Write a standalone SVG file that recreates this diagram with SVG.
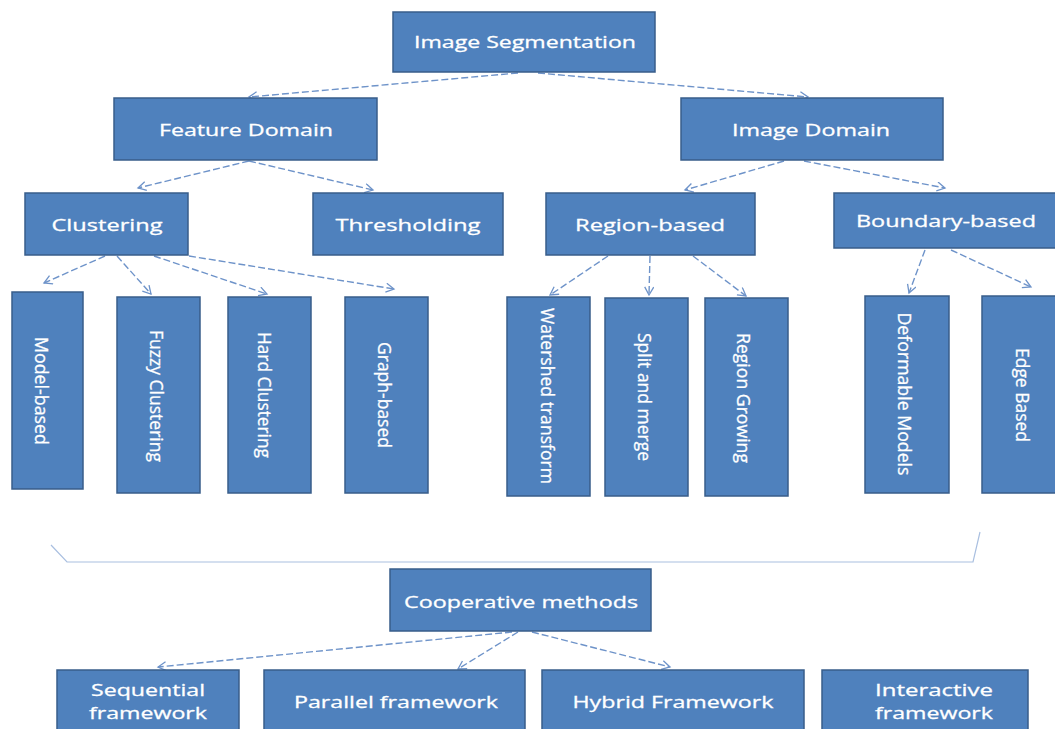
<svg xmlns="http://www.w3.org/2000/svg" width="1055" height="729" viewBox="0 0 1055 729">
<defs>
<marker id="ah" markerUnits="userSpaceOnUse" markerWidth="12" markerHeight="12" refX="9" refY="5" orient="auto">
<path d="M1,0.5 L9,5 L1,9.5" fill="none" stroke="#6E93C9" stroke-width="1.3"/>
</marker>
<style>
.box{fill:#4F81BD;stroke:#385D8A;stroke-width:1.5}
.t{fill:#FFFFFF;stroke:#FFFFFF;stroke-width:0.3;font-family:"Open Sans","Liberation Sans",sans-serif;font-size:17px;text-anchor:middle}
.v{font-size:19px}
.c{fill:none;stroke:#6E93C9;stroke-width:1.4;stroke-dasharray:7 3;marker-end:url(#ah)}
.b{fill:none;stroke:#A9BFE0;stroke-width:1.2}
</style>
</defs>
<rect width="1055" height="729" fill="#FFFFFF"/>

<g id="connectors">
<line class="c" x1="518" y1="73" x2="249" y2="97"/>
<line class="c" x1="538" y1="73" x2="808" y2="97"/>
<line class="c" x1="249" y1="161" x2="138" y2="188"/>
<line class="c" x1="249" y1="161" x2="373" y2="190"/>
<line class="c" x1="784" y1="161" x2="685" y2="190"/>
<line class="c" x1="804" y1="161" x2="945" y2="188"/>
<line class="c" x1="105" y1="256" x2="44" y2="283"/>
<line class="c" x1="117" y1="256" x2="151" y2="294"/>
<line class="c" x1="154" y1="256" x2="267" y2="294"/>
<line class="c" x1="189" y1="256" x2="394" y2="289"/>
<line class="c" x1="608" y1="256" x2="550" y2="295"/>
<line class="c" x1="650" y1="256" x2="649" y2="295"/>
<line class="c" x1="693" y1="256" x2="746" y2="296"/>
<line class="c" x1="925" y1="250" x2="909" y2="293"/>
<line class="c" x1="951" y1="250" x2="1031" y2="287"/>
<line class="c" x1="512" y1="632" x2="158" y2="667"/>
<line class="c" x1="518" y1="632" x2="458" y2="669"/>
<line class="c" x1="532" y1="632" x2="670" y2="667"/>
<polyline class="b" points="51,545 67,562 973,562 980,532"/>
</g>

<g id="n-image-segmentation"><rect class="box" x="393" y="12" width="262" height="60"/><text class="t" x="525" y="48" textLength="222" lengthAdjust="spacingAndGlyphs">Image Segmentation</text></g>
<g id="n-feature-domain"><rect class="box" x="114" y="98" width="263" height="62"/><text class="t" x="246" y="136" textLength="174" lengthAdjust="spacingAndGlyphs">Feature Domain</text></g>
<g id="n-image-domain"><rect class="box" x="681" y="98" width="262" height="62"/><text class="t" x="811" y="136" textLength="158" lengthAdjust="spacingAndGlyphs">Image Domain</text></g>
<g id="n-clustering"><rect class="box" x="25" y="193" width="163" height="62"/><text class="t" x="107" y="231" textLength="111" lengthAdjust="spacingAndGlyphs">Clustering</text></g>
<g id="n-thresholding"><rect class="box" x="313" y="193" width="190" height="62"/><text class="t" x="408" y="231" textLength="145" lengthAdjust="spacingAndGlyphs">Thresholding</text></g>
<g id="n-region-based"><rect class="box" x="546" y="193" width="209" height="62"/><text class="t" x="650" y="231" textLength="150" lengthAdjust="spacingAndGlyphs">Region-based</text></g>
<g id="n-boundary-based"><rect class="box" x="834" y="193" width="226" height="55"/><text class="t" x="946" y="227" textLength="180" lengthAdjust="spacingAndGlyphs">Boundary-based</text></g>

<g id="n-model-based"><rect class="box" x="12" y="292" width="71" height="197"/><text class="t v" x="0" y="7" transform="translate(42,391) rotate(90)" textLength="108" lengthAdjust="spacingAndGlyphs">Model-based</text></g>
<g id="n-fuzzy-clustering"><rect class="box" x="117" y="297" width="83" height="196"/><text class="t v" x="0" y="7" transform="translate(157,396) rotate(90)" textLength="132" lengthAdjust="spacingAndGlyphs">Fuzzy Clustering</text></g>
<g id="n-hard-clustering"><rect class="box" x="228" y="297" width="83" height="196"/><text class="t v" x="0" y="7" transform="translate(265,395) rotate(90)" textLength="126" lengthAdjust="spacingAndGlyphs">Hard Clustering</text></g>
<g id="n-graph-based"><rect class="box" x="345" y="297" width="83" height="196"/><text class="t v" x="0" y="7" transform="translate(385,395) rotate(90)" textLength="106" lengthAdjust="spacingAndGlyphs">Graph-based</text></g>
<g id="n-watershed"><rect class="box" x="507" y="297" width="83" height="199"/><text class="t v" x="0" y="7" transform="translate(548,396) rotate(90)" textLength="176" lengthAdjust="spacingAndGlyphs">Watershed transform</text></g>
<g id="n-split-merge"><rect class="box" x="605" y="298" width="83" height="198"/><text class="t v" x="0" y="7" transform="translate(645,397) rotate(90)" textLength="128" lengthAdjust="spacingAndGlyphs">Split and merge</text></g>
<g id="n-region-growing"><rect class="box" x="705" y="298" width="83" height="198"/><text class="t v" x="0" y="7" transform="translate(744,398) rotate(90)" textLength="130" lengthAdjust="spacingAndGlyphs">Region Growing</text></g>
<g id="n-deformable"><rect class="box" x="865" y="296" width="84" height="197"/><text class="t v" x="0" y="7" transform="translate(905,394) rotate(90)" textLength="163" lengthAdjust="spacingAndGlyphs">Deformable Models</text></g>
<g id="n-edge-based"><rect class="box" x="982" y="296" width="80" height="197"/><text class="t v" x="0" y="7" transform="translate(1023,395) rotate(90)" textLength="94" lengthAdjust="spacingAndGlyphs">Edge Based</text></g>

<g id="n-cooperative"><rect class="box" x="390" y="569" width="261" height="62"/><text class="t" x="521" y="608" textLength="234" lengthAdjust="spacingAndGlyphs">Cooperative methods</text></g>
<g id="n-sequential"><rect class="box" x="57" y="670" width="182" height="70"/><text class="t" x="148" y="696" textLength="114" lengthAdjust="spacingAndGlyphs">Sequential</text><text class="t" x="148" y="719" textLength="118" lengthAdjust="spacingAndGlyphs">framework</text></g>
<g id="n-parallel"><rect class="box" x="264" y="670" width="261" height="70"/><text class="t" x="396" y="708" textLength="204" lengthAdjust="spacingAndGlyphs">Parallel framework</text></g>
<g id="n-hybrid"><rect class="box" x="542" y="670" width="262" height="70"/><text class="t" x="673" y="708" textLength="201" lengthAdjust="spacingAndGlyphs">Hybrid Framework</text></g>
<g id="n-interactive"><rect class="box" x="822" y="670" width="206" height="70"/><text class="t" x="934" y="696" textLength="118" lengthAdjust="spacingAndGlyphs">Interactive</text><text class="t" x="934" y="719" textLength="118" lengthAdjust="spacingAndGlyphs">framework</text></g>
</svg>
